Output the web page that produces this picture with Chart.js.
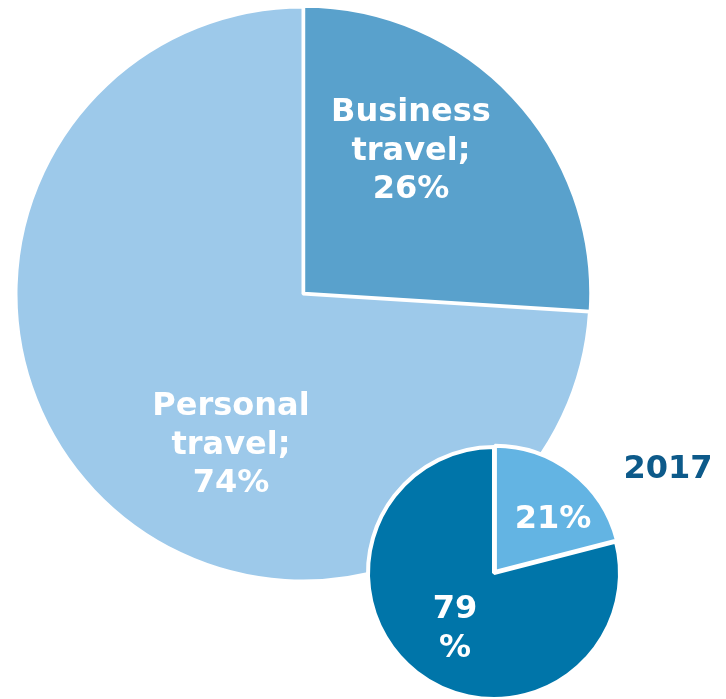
<!DOCTYPE html>
<html>
<head>
<meta charset="utf-8">
<script src="https://cdn.jsdelivr.net/npm/chart.js@4"></script>
<style>
    html, body { margin: 0; padding: 0; background: #fff; }
    body { width: 726px; height: 699px; position: relative; overflow: hidden; }
    .wrap { position: absolute; }
    #big-wrap { left: 13px; top: 4px; width: 580px; height: 580px; }
    #small-wrap { left: 359px; top: 438px; width: 270px; height: 270px; }
    #year { position: absolute; left: 668px; top: 483px; transform: translate(-50%, -100%);
            font: bold 32px/1 "DejaVu Sans", sans-serif; color: #0d5a8a; white-space: nowrap; }
</style>
</head>
<body>
<div class="wrap" id="big-wrap"><canvas id="big-chart"></canvas></div>
<div class="wrap" id="small-wrap"><canvas id="small-chart"></canvas></div>
<div id="year">2017</div>
<script>
// all travel (big pie)
const bigLabels = ['Business travel', 'Personal travel'];
const bigValues = [26, 74];
const bigColors = ['#59a1cc', '#9dc9ea'];
const bigText = [['Business', 'travel;', '26%'], ['Personal', 'travel;', '74%']];

// 2017 (small pie)
const smallLabels = ['Business travel', 'Personal travel'];
const smallValues = [21, 79];
const smallColors = ['#63b4e3', '#0075a9'];
const smallText = [['21%'], ['79', '%']];

const FONT = '"DejaVu Sans", sans-serif';

// draws the slice labels; anchor = [dx, baseline of first line] from the pie centre
function labelPlugin(lines, anchors, size, lh) {
    return {
        id: 'sliceLabels',
        afterDraw(chart) {
            const ctx = chart.ctx;
            const arc = chart.getDatasetMeta(0).data[0];
            ctx.save();
            ctx.fillStyle = '#fff';
            ctx.font = `bold ${size}px ${FONT}`;
            ctx.textAlign = 'center';
            ctx.textBaseline = 'alphabetic';
            lines.forEach((ls, i) => {
                const [ax, ay] = anchors[i];
                ls.forEach((t, j) => ctx.fillText(t, arc.x + ax, arc.y + ay + j * lh));
            });
            ctx.restore();
        }
    };
}

function makePie(id, labels, values, colors, radius, border, offsets, plugin) {
    return new Chart(document.getElementById(id), {
        type: 'pie',
        data: {
            labels: labels,
            datasets: [{
                data: values,
                backgroundColor: colors,
                borderColor: '#fff',
                borderWidth: border,
                offset: offsets,
                hoverOffset: 0,
                radius: radius
            }]
        },
        options: {
            responsive: true,
            maintainAspectRatio: false,
            animation: false,
            events: [],
            plugins: { legend: { display: false }, tooltip: { enabled: false } }
        },
        plugins: [plugin]
    });
}

makePie('big-chart', bigLabels, bigValues, bigColors, 287, 3, [4, 0],
    labelPlugin(bigText, [[108, -173], [-72, 121]], 32, 38.5));
makePie('small-chart', smallLabels, smallValues, smallColors, 126, 4, [6, 0],
    labelPlugin(smallText, [[59, -45], [-39, 45]], 32, 39));
</script>
</body>
</html>
